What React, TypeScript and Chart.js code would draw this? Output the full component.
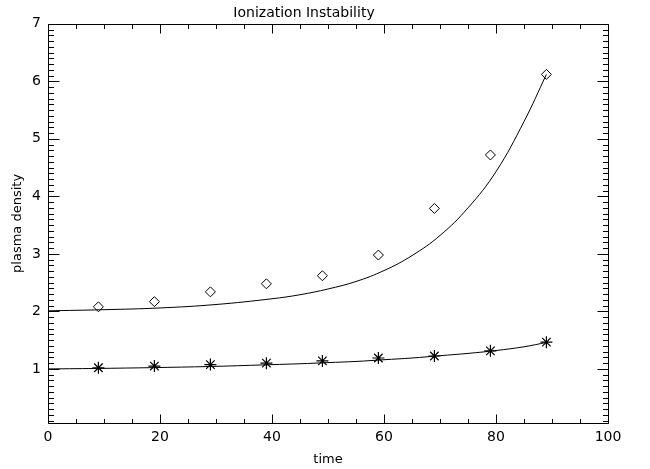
import React, { useEffect, useRef } from "react";
import { Chart, registerables } from "chart.js";

Chart.register(...registerables);

const TITLE = "Ionization Instability";
const X_TITLE = "time";
const Y_TITLE = "plasma density";

const X_TICKS = [0, 20, 40, 60, 80, 100];
const Y_TICKS = [1, 2, 3, 4, 5, 6, 7];
const X_MINOR_STEP = 5;
const Y_MINOR_STEP = 0.1;

const MARKER_TIMES = [9, 19, 29, 39, 49, 59, 69, 79, 89];
const DIAMOND_DENSITY = [2.08, 2.17, 2.34, 2.48, 2.62, 2.98, 3.79, 4.72, 6.12];
const STAR_DENSITY = [1.02, 1.05, 1.075, 1.1, 1.14, 1.19, 1.225, 1.315, 1.465];

const FIT_TIMES = [0, 10, 20, 30, 40, 45, 50, 55, 60, 65, 70, 75, 80, 85, 89];
const UPPER_FIT = [2.01, 2.03, 2.06, 2.12, 2.22, 2.29, 2.39, 2.52, 2.71, 2.97, 3.32, 3.8, 4.43, 5.3, 6.12];
const LOWER_FIT = [1.0, 1.01, 1.025, 1.045, 1.075, 1.09, 1.11, 1.13, 1.16, 1.19, 1.23, 1.27, 1.32, 1.385, 1.46];

const FONT = "'DejaVu Sans', sans-serif";

const pts = (xs: number[], ys: number[]) => xs.map((x, i) => ({ x, y: ys[i] }));

const framePlugin = {
  id: "idlFrame",
  afterDatasetsDraw(chart: any) {
    const { ctx, chartArea, scales } = chart;
    const { left, right, top, bottom } = chartArea;
    const xs = scales.x;
    const ys = scales.y;
    ctx.save();
    ctx.strokeStyle = "#000";
    ctx.lineWidth = 1;
    const L = Math.round(left) + 0.5;
    const R = Math.round(right) + 0.5;
    const T = Math.round(top) + 0.5;
    const B = Math.round(bottom) + 0.5;
    ctx.beginPath();
    ctx.rect(L, T, R - L, B - T);
    ctx.stroke();
    ctx.beginPath();
    const xMin = xs.min, xMax = xs.max;
    const nX = Math.round((xMax - xMin) / X_MINOR_STEP);
    for (let k = 0; k <= nX; k++) {
      const v = xMin + k * X_MINOR_STEP;
      const px = Math.round(xs.getPixelForValue(v)) + 0.5;
      const major = X_TICKS.some((t) => Math.abs(t - v) < 1e-6);
      const len = major ? 9 : 4.5;
      ctx.moveTo(px, B);
      ctx.lineTo(px, B - len);
      ctx.moveTo(px, T);
      ctx.lineTo(px, T + len);
    }
    const nY = Math.round(ys.max / Y_MINOR_STEP);
    for (let k = 1; k <= nY; k++) {
      const v = k * Y_MINOR_STEP;
      if (v < ys.min) continue;
      const py = Math.round(ys.getPixelForValue(v)) + 0.5;
      const major = Y_TICKS.some((t) => Math.abs(t - v) < 1e-6);
      const len = major ? 11 : 5.5;
      ctx.moveTo(L, py);
      ctx.lineTo(L + len, py);
      ctx.moveTo(R, py);
      ctx.lineTo(R - len, py);
    }
    ctx.stroke();
    ctx.restore();
  },
};

export default function App() {
  const ref = useRef<HTMLCanvasElement | null>(null);

  useEffect(() => {
    if (!ref.current) return;
    const chart = new Chart(ref.current, {
      type: "scatter",
      data: {
        datasets: [
          {
            label: "upper fit",
            data: pts(FIT_TIMES, UPPER_FIT),
            showLine: true,
            borderColor: "#000",
            borderWidth: 1,
            pointRadius: 0,
            tension: 0.4,
          },
          {
            label: "lower fit",
            data: pts(FIT_TIMES, LOWER_FIT),
            showLine: true,
            borderColor: "#000",
            borderWidth: 1,
            pointRadius: 0,
            tension: 0.4,
          },
          {
            label: "diamonds",
            data: pts(MARKER_TIMES, DIAMOND_DENSITY),
            showLine: false,
            pointStyle: "rectRot",
            pointRadius: 5,
            borderColor: "#000",
            backgroundColor: "rgba(0,0,0,0)",
            borderWidth: 1,
          },
          {
            label: "stars",
            data: pts(MARKER_TIMES, STAR_DENSITY),
            showLine: false,
            pointStyle: "star",
            pointRadius: 6,
            borderColor: "#000",
            backgroundColor: "#000",
            borderWidth: 1.2,
          },
        ],
      },
      options: {
        responsive: false,
        animation: false,
        devicePixelRatio: 1,
        layout: { padding: { left: 0, right: 42, top: 0, bottom: 0 } },
        plugins: {
          legend: { display: false },
          tooltip: { enabled: false },
          title: {
            display: true,
            text: TITLE,
            color: "#000",
            font: { family: FONT, size: 14, weight: "normal" },
            padding: { top: 5, bottom: 2 },
          },
        },
        scales: {
          x: {
            type: "linear",
            position: "bottom",
            min: 0,
            max: 100,
            afterBuildTicks: (s: any) => {
              s.ticks = X_TICKS.map((value) => ({ value }));
            },
            afterFit: (s: any) => {
              s.height = 46;
            },
            grid: { display: false, drawTicks: false },
            border: { display: false },
            ticks: {
              color: "#000",
              font: { family: FONT, size: 14 },
              padding: 6,
              maxRotation: 0,
            },
            title: {
              display: true,
              text: X_TITLE,
              color: "#000",
              font: { family: FONT, size: 13 },
              padding: { top: 0, bottom: 2 },
            },
          },
          y: {
            type: "linear",
            position: "left",
            min: 0.06,
            max: 7,
            afterBuildTicks: (s: any) => {
              s.ticks = Y_TICKS.map((value) => ({ value }));
            },
            afterFit: (s: any) => {
              s.width = 48;
            },
            grid: { display: false, drawTicks: false },
            border: { display: false },
            ticks: {
              color: "#000",
              font: { family: FONT, size: 14 },
              padding: 7,
            },
            title: {
              display: true,
              text: Y_TITLE,
              color: "#000",
              font: { family: FONT, size: 13 },
              padding: { top: 10, bottom: 0 },
            },
          },
        },
      },
      plugins: [framePlugin],
    } as any);
    return () => chart.destroy();
  }, []);

  return (
    <div style={{ position: "absolute", left: 0, top: 0, width: 650, height: 469, background: "#fff" }}>
      <canvas ref={ref} width={650} height={469} />
    </div>
  );
}
